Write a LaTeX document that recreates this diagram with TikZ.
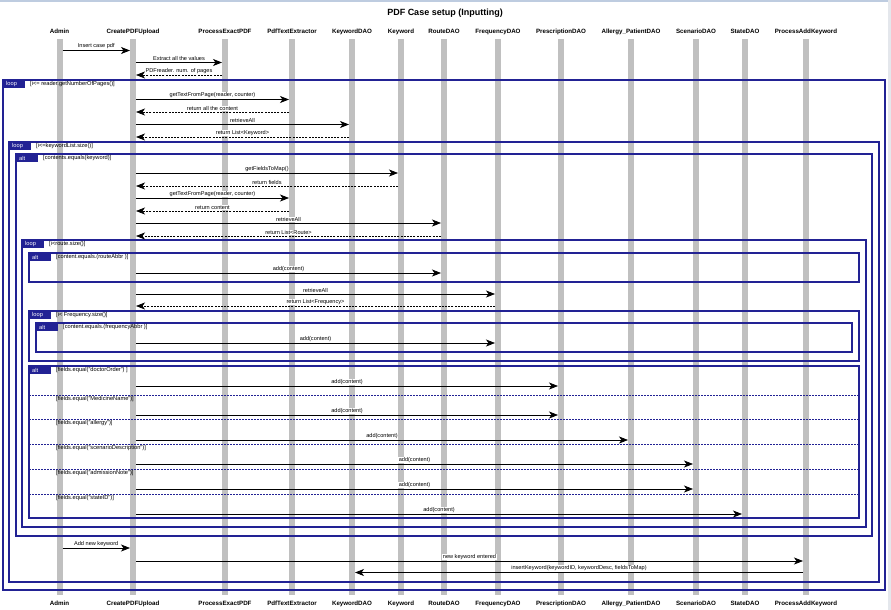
\documentclass[tikz,border=0pt]{standalone}
\usepackage{fontspec}
\setmainfont{Liberation Sans}
\usetikzlibrary{calc,arrows.meta}
\definecolor{navy}{RGB}{34,34,148}
\definecolor{life}{RGB}{192,192,192}
\definecolor{topband}{RGB}{190,204,224}
\definecolor{sideband}{RGB}{228,231,236}
\tikzset{
 hdr/.style={font=\fontsize{6.2}{7}\selectfont\bfseries, inner sep=0pt, anchor=base},
 lbl/.style={font=\fontsize{5.6}{6}\selectfont, fill=white, inner sep=0.6pt, anchor=south, yshift=0.6pt},
 call/.style={draw=black, line width=0.7pt, -{Stealth[length=9pt,width=7pt,inset=2.5pt]}},
 ret/.style={call, dash pattern=on 2pt off 1.2pt},
 frm/.style={draw=navy, line width=1.2pt},
 tabbox/.style={fill=navy, text=white, font=\fontsize{5.7}{6}\selectfont, inner xsep=3pt, inner ysep=0pt, text width=16pt, align=left, minimum height=8pt, anchor=north west},
 grd/.style={font=\fontsize{5.7}{6}\selectfont, anchor=west, inner sep=0pt},
 divider/.style={draw=navy, line width=0.9pt, dash pattern=on 2pt off 1pt},
 lifeline/.style={draw=life, line width=6pt},
}
\newcommand\msgr[5][call]{\draw[#1] ($(#2 |- 0,#4)+(3,0)$) -- node[lbl]{#5} ($(#3 |- 0,#4)+(-3,0)$);}
\newcommand\msgl[5][ret]{\draw[#1] ($(#2 |- 0,#4)+(-3,0)$) -- node[lbl]{#5} ($(#3 |- 0,#4)+(3,0)$);}
\newcommand\frag[7]{%
 \draw[frm] (#2,#3) rectangle (#4,#5);
 \node[tabbox] (#1t) at (#2,#3) {#6};
 \node[grd] (#1g) at ($(#2,#3)+(27,4.5)$) {#7};}
\begin{document}
\begin{tikzpicture}[x=1pt,y=-1pt]
\useasboundingbox (0,0) rectangle (891,610);
\fill[white] (0,0) rectangle (891,610);
\fill[topband] (0,0) rectangle (891,2);
\fill[sideband] (888,0) rectangle (891,610);

\node[font=\fontsize{9}{10}\selectfont\bfseries, inner sep=0pt] (title) at (445,13) {PDF Case setup (Inputting)};

% lifelines
\foreach \n/\x/\t in {Admin/59.5/Admin, Create/133/CreatePDFUpload, Proc/225/ProcessExactPDF,
  PdfT/292/PdfTextExtractor, KwD/352/KeywordDAO, Kw/401/Keyword, Route/444/RouteDAO,
  Freq/498/FrequencyDAO, Presc/561/PrescriptionDAO, Allg/631/Allergy\_PatientDAO,
  Scen/696/ScenarioDAO, State/745/StateDAO, PAK/806/ProcessAddKeyword}{
  \node[hdr] (h\n) at (\x,33.2) {\t};
  \node[hdr] (b\n) at (\x,605.2) {\t};
  \draw[lifeline] (h\n |- 0,39) -- (b\n |- 0,595);
}

% fragments
\frag{loopA}{3}{80}{885}{590}{loop}{[i<= reader.getNumberOfPages()]}
\frag{loopB}{9}{142}{879}{582}{loop}{[i<=keywordList.size()]}
\frag{altA}{16}{154}{872}{536}{alt}{[contents.equals(keyword)]}
\frag{loopC}{22}{240}{866}{527}{loop}{[i<route.size()]}
\frag{altB}{29}{253}{859}{282}{alt}{[content.equals.(routeAbbr )]}
\frag{loopD}{29}{311}{859}{361}{loop}{[i< Frequency.size()]}
\frag{altC}{36}{323}{852}{352}{alt}{[content.equals.(frequencyAbbr )]}
\frag{altD}{29}{366}{859}{518}{alt}{[fields.equal("doctorOrder") ]}
\foreach \y/\g [count=\i] in {395/{[fields.equal("MedicineName")]}, 419/{[fields.equal("allergy")]},
  444/{[fields.equal("scenarioDescription")]}, 469/{[fields.equal("admissionNote")]},
  494/{[fields.equal("stateID")]}}{
  \coordinate (dl\i) at (29,\y);
  \coordinate (dr\i) at (859,\y);
  \draw[divider] (dl\i) -- (dr\i);
  \node[grd] (dg\i) at ($(dl\i)+(27,4.5)$) {\g};
}

% messages
\msgr{hAdmin}{hCreate}{50.5}{Insert case pdf}
\msgr{hCreate}{hProc}{62.5}{Extract all the values}
\msgl{hProc}{hCreate}{75}{PDFreader. num. of pages}
\msgr{hCreate}{hPdfT}{99.5}{getTextFromPage(reader, counter)}
\msgl{hPdfT}{hCreate}{112}{return all the content}
\msgr{hCreate}{hKwD}{124.5}{retrieveAll}
\msgl{hKwD}{hCreate}{137}{return List<Keyword>}
\msgr{hCreate}{hKw}{173}{getFieldsToMap()}
\msgl{hKw}{hCreate}{186}{return fields}
\msgr{hCreate}{hPdfT}{198}{getTextFromPage(reader, counter)}
\msgl{hPdfT}{hCreate}{211}{return content}
\msgr{hCreate}{hRoute}{223}{retrieveAll}
\msgl{hRoute}{hCreate}{236}{return List<Route>}
\msgr{hCreate}{hRoute}{273}{add(content)}
\msgr{hCreate}{hFreq}{294}{retrieveAll}
\msgl{hFreq}{hCreate}{306}{return List<Frequency>}
\msgr{hCreate}{hFreq}{343}{add(content)}
\msgr{hCreate}{hPresc}{386}{add(content)}
\msgr{hCreate}{hPresc}{415}{add(content)}
\msgr{hCreate}{hAllg}{440}{add(content)}
\msgr{hCreate}{hScen}{464}{add(content)}
\msgr{hCreate}{hScen}{489}{add(content)}
\msgr{hCreate}{hState}{514}{add(content)}
\msgr{hAdmin}{hCreate}{548}{Add new keyword}
\msgr{hCreate}{hPAK}{561}{new keyword entered}
\msgl[call]{hPAK}{hKwD}{572.5}{insertKeyword(keywordID, keywordDesc, fieldsToMap)}
\end{tikzpicture}
\end{document}
